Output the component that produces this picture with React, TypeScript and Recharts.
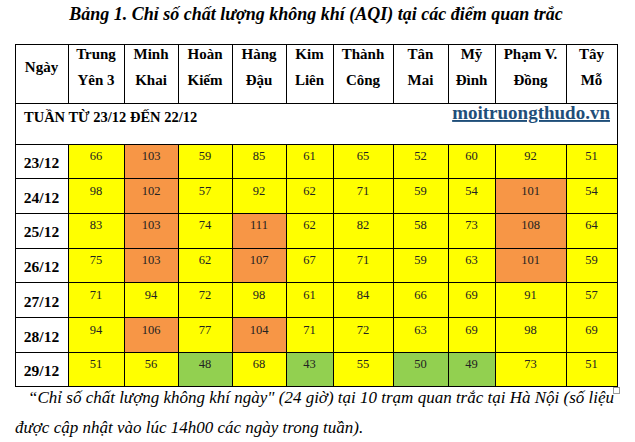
import { ScatterChart, Scatter, XAxis, YAxis } from 'recharts';

// stations (header), two lines each as printed
const stationLines = [
  ['Trung', 'Yên 3'],
  ['Minh', 'Khai'],
  ['Hoàn', 'Kiếm'],
  ['Hàng', 'Đậu'],
  ['Kim', 'Liên'],
  ['Thành', 'Công'],
  ['Tân', 'Mai'],
  ['Mỹ', 'Đình'],
  ['Phạm V.', 'Đồng'],
  ['Tây', 'Mỗ'],
];

const days = ['23/12', '24/12', '25/12', '26/12', '27/12', '28/12', '29/12'];

// AQI per day, same order as stationLines
const aqi2312 = [66, 103, 59, 85, 61, 65, 52, 60, 92, 51];
const aqi2412 = [98, 102, 57, 92, 62, 71, 59, 54, 101, 54];
const aqi2512 = [83, 103, 74, 111, 62, 82, 58, 73, 108, 64];
const aqi2612 = [75, 103, 62, 107, 67, 71, 59, 63, 101, 59];
const aqi2712 = [71, 94, 72, 98, 61, 84, 66, 69, 91, 57];
const aqi2812 = [94, 106, 77, 104, 71, 72, 63, 69, 98, 69];
const aqi2912 = [51, 56, 48, 68, 43, 55, 50, 49, 73, 51];
const dayValues = [aqi2312, aqi2412, aqi2512, aqi2612, aqi2712, aqi2812, aqi2912];

// table layout (units = px, the axes map 1:1)
const colWidths = [53, 56, 54, 54, 54, 47, 60, 55, 47, 71, 51];
const HEADER_H = 59;
const SECTION_H = 41;
const ROW_H = 34.7;
const TABLE_W = colWidths.reduce((a, b) => a + b, 0);
const TABLE_H = HEADER_H + SECTION_H + ROW_H * days.length;
const colStart = colWidths.map((_, i) => colWidths.slice(0, i).reduce((a, b) => a + b, 0));

const FONT = '"Liberation Serif", "Times New Roman", serif';

const aqiColor = (v: number) => (v <= 50 ? '#92D050' : v <= 100 ? '#FFFF00' : '#F79646');

const headerCells = colWidths.map((w, i) => ({
  x: colStart[i] + w / 2,
  y: HEADER_H / 2,
  w,
  h: HEADER_H,
  lines: i === 0 ? ['Ngày'] : stationLines[i - 1],
}));

const sectionCell = [{ x: TABLE_W / 2, y: HEADER_H + SECTION_H / 2, w: TABLE_W, h: SECTION_H }];

const dayCells = days.map((d, r) => ({
  x: colWidths[0] / 2,
  y: HEADER_H + SECTION_H + ROW_H * (r + 0.5),
  w: colWidths[0],
  h: ROW_H,
  label: d,
}));

const valueCells = dayValues.flatMap((vals, r) =>
  vals.map((v, c) => ({
    x: colStart[c + 1] + colWidths[c + 1] / 2,
    y: HEADER_H + SECTION_H + ROW_H * (r + 0.5),
    w: colWidths[c + 1],
    h: ROW_H,
    value: v,
  }))
);

const HeaderShape = (props: any) => {
  const { cx, cy, payload } = props;
  const top = cy - payload.h / 2;
  return (
    <g>
      <rect x={cx - payload.w / 2} y={top} width={payload.w} height={payload.h} fill="#fff" stroke="#000" shapeRendering="crispEdges" />
      {payload.lines.length === 1 ? (
        <text x={cx} y={top + 28} textAnchor="middle" fontFamily={FONT} fontWeight="bold" fontSize={15} fill="#000">
          {payload.lines[0]}
        </text>
      ) : (
        payload.lines.map((l: string, i: number) => (
          <text key={i} x={cx} y={top + 15 + i * 26} textAnchor="middle" fontFamily={FONT} fontWeight="bold" fontSize={15} fill="#000">
            {l}
          </text>
        ))
      )}
    </g>
  );
};

const SectionShape = (props: any) => {
  const { cx, cy, payload } = props;
  const left = cx - payload.w / 2;
  const top = cy - payload.h / 2;
  return (
    <g>
      <rect x={left} y={top} width={payload.w} height={payload.h} fill="#fff" stroke="#000" shapeRendering="crispEdges" />
      <text x={left + 9} y={top + 19} fontFamily={FONT} fontWeight="bold" fontSize={14.5} fill="#000">
        TUẦN TỪ 23/12 ĐẾN 22/12
      </text>
      <text x={left + payload.w - 7} y={top + 16} textAnchor="end" fontFamily={FONT} fontWeight="bold" fontSize={19} fill="#1F4E79" textDecoration="underline">
        moitruongthudo.vn
      </text>
    </g>
  );
};

const DayShape = (props: any) => {
  const { cx, cy, payload } = props;
  const top = cy - payload.h / 2;
  return (
    <g>
      <rect x={cx - payload.w / 2} y={top} width={payload.w} height={payload.h} fill="#fff" stroke="#000" shapeRendering="crispEdges" />
      <text x={cx} y={top + 24} textAnchor="middle" fontFamily={FONT} fontWeight="bold" fontSize={15.5} fill="#000">
        {payload.label}
      </text>
    </g>
  );
};

const ValueShape = (props: any) => {
  const { cx, cy, payload } = props;
  const top = cy - payload.h / 2;
  return (
    <g>
      <rect x={cx - payload.w / 2} y={top} width={payload.w} height={payload.h} fill={aqiColor(payload.value)} stroke="#000" shapeRendering="crispEdges" />
      <text x={cx} y={top + 16} textAnchor="middle" fontFamily={FONT} fontSize={12.5} fill="#222">
        {payload.value}
      </text>
    </g>
  );
};

export default function App() {
  return (
    <div style={{ position: 'absolute', left: 0, top: 0, width: 635, height: 442, background: '#fff', fontFamily: FONT }}>
      <div style={{ position: 'absolute', left: 0, top: 3, width: 632, textAlign: 'center', fontWeight: 'bold', fontStyle: 'italic', fontSize: 18, lineHeight: '22px' }}>
        Bảng 1. Chỉ số chất lượng không khí (AQI) tại các điểm quan trắc
      </div>
      <ScatterChart width={635} height={442} margin={{ top: 44, right: 635 - 15 - TABLE_W, bottom: 442 - 44 - TABLE_H, left: 15 }}>
        <XAxis type="number" dataKey="x" domain={[0, TABLE_W]} hide />
        <YAxis type="number" dataKey="y" domain={[0, TABLE_H]} reversed hide />
        <Scatter data={headerCells} shape={HeaderShape} isAnimationActive={false} />
        <Scatter data={sectionCell} shape={SectionShape} isAnimationActive={false} />
        <Scatter data={dayCells} shape={DayShape} isAnimationActive={false} />
        <Scatter data={valueCells} shape={ValueShape} isAnimationActive={false} />
      </ScatterChart>
      <div style={{ position: 'absolute', left: 28, top: 388, fontStyle: 'italic', fontSize: 17, lineHeight: '20px', whiteSpace: 'nowrap' }}>
        “Chỉ số chất lượng không khí ngày" (24 giờ) tại 10 trạm quan trắc tại Hà Nội (số liệu
      </div>
      <div style={{ position: 'absolute', left: 613, top: 387, width: 5, height: 5, border: '1px solid #999' }} />
      <div style={{ position: 'absolute', left: 15, top: 418, fontStyle: 'italic', fontSize: 17, lineHeight: '20px', whiteSpace: 'nowrap' }}>
        được cập nhật vào lúc 14h00 các ngày trong tuần).
      </div>
    </div>
  );
}
